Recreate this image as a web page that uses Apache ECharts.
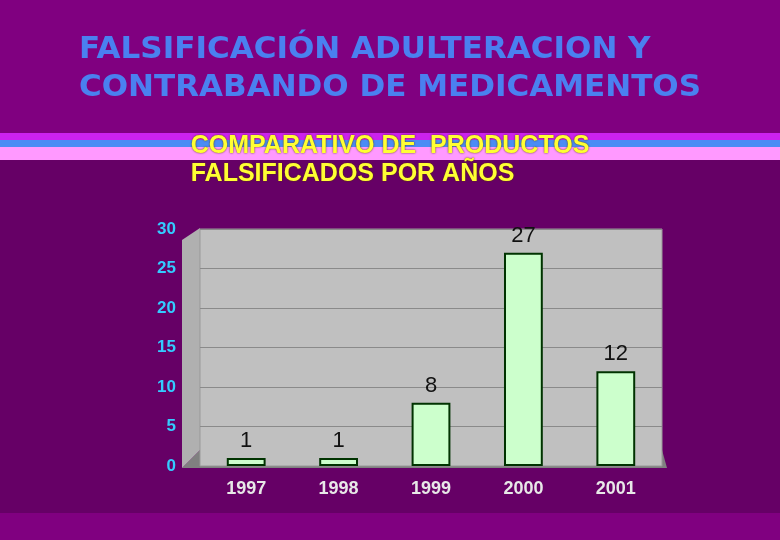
<!DOCTYPE html>
<html><head><meta charset="utf-8">
<script src="https://cdn.jsdelivr.net/npm/echarts@6/dist/echarts.min.js"></script>
<style>html,body{margin:0;padding:0;background:#800080}#c{width:780px;height:540px}</style>
</head><body><div id="c"></div>
<script>
const categories = ['1997','1998','1999','2000','2001'];
const values = [1, 1, 8, 27, 12];
const yTicks = [0, 5, 10, 15, 20, 25, 30];

const chart = echarts.init(document.getElementById('c'));
chart.setOption({
  backgroundColor: '#800080',
  graphic: [
    {type:'rect', shape:{x:0,y:160,width:780,height:353}, style:{fill:'#660066'}, z:-10},
    {type:'rect', shape:{x:0,y:133,width:780,height:7}, style:{fill:'#cc22ee'}, z:-9},
    {type:'rect', shape:{x:0,y:140,width:780,height:7}, style:{fill:'#4a8cf5'}, z:-9},
    {type:'rect', shape:{x:0,y:147,width:780,height:13}, style:{fill:'#ff99ff'}, z:-9},
    {type:'text', left:'center', top:31, style:{text:'FALSIFICACIÓN ADULTERACION Y\nCONTRABANDO DE MEDICAMENTOS', fill:'#4a80f0', font:'bold 31px "DejaVu Sans"', align:'center', lineHeight:38}},
    {type:'text', left:'center', top:132, style:{text:'COMPARATIVO DE  PRODUCTOS\nFALSIFICADOS POR AÑOS', fill:'#ffff33', font:'bold 25px "Liberation Sans"', align:'center', lineHeight:28, textShadowColor:'#553300', textShadowBlur:2}},
    {type:'polygon', shape:{points:[[200,450],[662,450],[667,468],[182,468]]}, style:{fill:'#808080'}, z:-1},
    {type:'polygon', shape:{points:[[182,240],[200,228],[200,450],[182,468]]}, style:{fill:'#b0b0b0'}, z:-1}
  ],
  grid: {left:200, right:118, top:229, bottom:74, backgroundColor:'#c0c0c0', show:true, borderColor:'#999', borderWidth:1},
  xAxis: {type:'category', data:categories, axisLine:{show:false}, axisTick:{show:false},
    axisLabel:{color:'#e8e8e8', fontWeight:'bold', fontSize:18, fontFamily:'Liberation Sans', margin:14}},
  yAxis: {type:'value', min:0, max:30, interval:5, axisLine:{show:false}, axisTick:{show:false},
    axisLabel:{color:'#33ccff', fontWeight:'bold', fontSize:17, fontFamily:'Liberation Sans', margin:24,
      formatter: v => yTicks.includes(v) ? String(v) : ''},
    splitLine:{lineStyle:{color:'#8a8a8a'}}},
  series: [{type:'bar', data:values, barWidth:'42%',
    itemStyle:{color:'#ccffcc', borderColor:'#003300', borderWidth:2},
    label:{show:true, position:'top', color:'#111', fontSize:22, fontFamily:'Liberation Sans', distance:6}}]
});
</script></body></html>
